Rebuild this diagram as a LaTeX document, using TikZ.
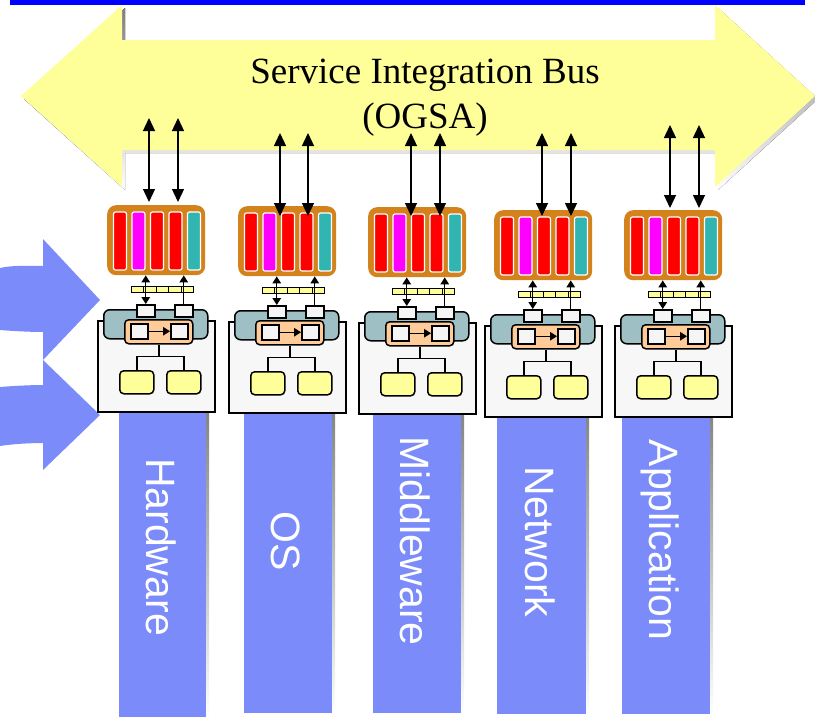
\documentclass[tikz,border=0pt]{standalone}
\usepackage{fontspec}
\setmainfont{Liberation Serif}
\setsansfont{Liberation Sans}
\usetikzlibrary{arrows.meta}

\definecolor{busyellow}{HTML}{FFFF99}
\definecolor{shade}{HTML}{CCCCFF}
\definecolor{layerblue}{HTML}{7B8BFA}
\definecolor{topblue}{HTML}{0000FF}
\definecolor{frameorange}{HTML}{D4821C}
\definecolor{cellred}{HTML}{FF0000}
\definecolor{cellmagenta}{HTML}{FF00FF}
\definecolor{cellteal}{HTML}{30B5B0}
\definecolor{hostteal}{HTML}{9EBFC3}
\definecolor{peach}{HTML}{FFCC99}
\definecolor{paper}{HTML}{F7F7F7}
\definecolor{portwhite}{HTML}{F5F5F5}

\tikzset{
  box/.style={draw=black, line width=1.5pt, inner sep=0pt, anchor=north west},
  hostbox/.style={box, fill=paper, minimum width=117pt, minimum height=91pt},
  hostbar/.style={box, fill=hostteal, rounded corners=6pt, minimum width=104pt, minimum height=29pt},
  port/.style={box, fill=portwhite, minimum width=18pt, minimum height=12pt},
  engine/.style={box, fill=peach, rounded corners=4pt, minimum width=68pt, minimum height=24pt},
  slot/.style={box, fill=portwhite, minimum width=17pt, minimum height=15pt},
  leaf/.style={box, fill=busyellow, rounded corners=4pt, minimum width=34pt, minimum height=23pt},
  rack/.style={fill=frameorange, rounded corners=9pt, inner sep=0pt, anchor=north west,
    minimum width=98pt, minimum height=70pt},
  cell/.style={draw=white, line width=1.2pt, rounded corners=2pt, inner sep=0pt,
    minimum width=13pt, minimum height=58pt},
  stripcell/.style={draw=black, line width=1pt, fill=busyellow, inner sep=0pt, anchor=north west,
    minimum width=12.4pt, minimum height=6pt},
  wire/.style={draw=black, line width=1.5pt},
  busarrow/.style={line width=1.3pt,
    {Triangle[length=13pt,width=12pt]}-{Triangle[length=13pt,width=12pt]}},
  innerboth/.style={line width=1.4pt,
    {Triangle[length=7pt,width=8.5pt]}-{Triangle[length=7pt,width=8.5pt]}},
  innerone/.style={line width=1.4pt, -{Triangle[length=7pt,width=8.5pt]}},
  bustext/.style={font=\fontsize{37}{44}\selectfont, anchor=base, inner sep=0pt},
  layerlabel/.style={font=\sffamily\fontsize{41}{41}\selectfont, text=white, rotate=-90,
    anchor=base, inner sep=0pt},
}

\begin{document}
\begin{tikzpicture}[x=1pt,y=-1pt]
\useasboundingbox (0,0) rectangle (815,718);

% service bus: shadow, then the yellow double arrow
\foreach \d/\col in {3/shade,0/busyellow}{
  \fill[\col, shift={(\d,\d)}] (21,96) -- (122,5) -- (122,40) -- (715,40) -- (715,5)
    -- (815,96) -- (715,187) -- (715,150) -- (122,150) -- (122,187) -- cycle;
}
\fill[topblue] (10,0) rectangle (805,5);
\node[bustext] (bus-title) at (425,83) {Service Integration Bus};
\node[bustext] (bus-sub) at (425,128) {(OGSA)};

% incoming arrows on the left
\fill[layerblue] (0,268) .. controls (12,265) and (30,266) .. (43,266) -- (43,239)
  -- (100,300) -- (43,360) -- (43,332) .. controls (30,332) and (12,331) .. (0,330) -- cycle;
\fill[layerblue] (0,387) .. controls (12,386) and (30,385) .. (43,385) -- (43,360)
  -- (100,415) -- (43,470) -- (43,443) .. controls (30,443) and (12,444) .. (0,446) -- cycle;

% resource layers
\foreach \n/\a/\b/\bot/\lab/\ly in {1/119/206/717/Hardware/547, 2/244/332/713/OS/541,
    3/373/461/713/Middleware/541, 4/497/586/714/Network/542, 5/622/710/714/Application/540}{
  \fill[shade] ({\a+3},400) rectangle ({\b+3},{\bot+3});
  \fill[layerblue] (\a,400) rectangle (\b,\bot);
  \node[layerlabel] (layer-\n) at ({(\a+\b)/2-16.5},\ly) {\lab};
}

% grid service modules
\foreach \i/\L/\T/\ax/\bx/\at/\ab in {1/97/320/149/178/118/202, 2/228/321/280/308/133/216,
    3/358/322/411/440/133/216, 4/484/325/542/571/133/216, 5/614/325/670/699/125/208}{
  \node[hostbox] (m\i-host) at (\L,\T) {};
  \node[hostbar] (m\i-bar) at ({\L+6},{\T-11}) {};
  \node[port] (m\i-pa) at ({\L+39},{\T-16}) {};
  \node[port] (m\i-pb) at ({\L+77},{\T-16}) {};
  \node[engine] (m\i-eng) at ({\L+27},{\T-1}) {};
  \node[slot] (m\i-qa) at ({\L+33},{\T+3}) {};
  \node[slot] (m\i-qb) at ({\L+73},{\T+3}) {};
  \node[leaf] (m\i-ya) at ({\L+22},{\T+50}) {};
  \node[leaf] (m\i-yb) at ({\L+69},{\T+50}) {};
  \node[rack] (m\i-rack) at ({\L+10},{\T-115}) {};
  \foreach \j/\c in {0/cellred,1/cellmagenta,2/cellred,3/cellred,4/cellteal}{
    \node[cell, fill=\c] (m\i-c\j) at ({\L+23+18.5*\j},{\T-79}) {};
  }
  \foreach \j in {0,...,4}{
    \node[stripcell] (m\i-s\j) at ({\L+34+12.4*\j},{\T-34}) {};
  }
  \draw[innerboth] (m\i-pa.north) -- (m\i-pa.north |- m\i-rack.south);
  \draw[innerone] (m\i-pb.north) -- (m\i-pb.north |- m\i-rack.south);
  \draw[innerone] (m\i-qa.east) -- (m\i-qb.west);
  \draw[wire] (m\i-eng.south) -- ++(0,12) coordinate (m\i-j);
  \draw[wire] (m\i-ya.north) |- (m\i-j) -| (m\i-yb.north);
  \coordinate (m\i-ta) at (\ax,\at);
  \coordinate (m\i-ba) at (\ax,\ab);
  \coordinate (m\i-tb) at (\bx,\at);
  \coordinate (m\i-bb) at (\bx,\ab);
  \draw[busarrow] (m\i-ta) -- (m\i-ba);
  \draw[busarrow] (m\i-tb) -- (m\i-bb);
}
\end{tikzpicture}
\end{document}
